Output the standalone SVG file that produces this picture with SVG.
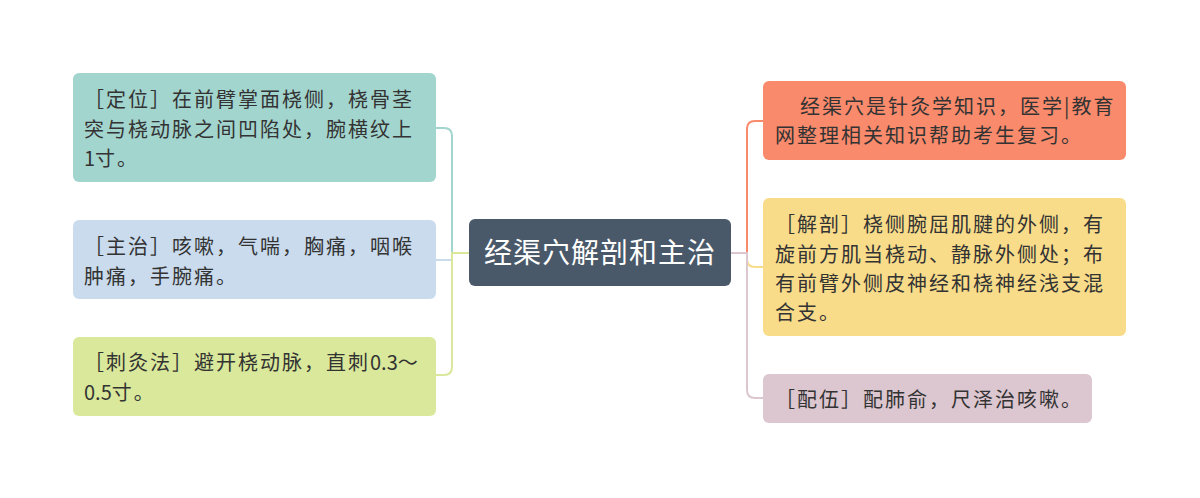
<svg xmlns="http://www.w3.org/2000/svg" width="1200" height="498" viewBox="0 0 1200 498">
<style>
.t{font-family:"Noto Sans CJK SC","Noto Sans",sans-serif;font-size:20px;letter-spacing:2px;fill:#333333;}
.n{letter-spacing:0px;}
.c{font-family:"Noto Sans CJK SC","Noto Sans",sans-serif;font-size:28px;letter-spacing:1px;fill:#ffffff;}
.e{fill:none;stroke-width:2;}
</style>
<rect width="1200" height="498" fill="#ffffff"/>
<g id="connectors">
<path class="e" stroke="#a3d5cf" d="M469 253 H452 V136 Q452 128 444 128 H436"/>
<path class="e" stroke="#c9dbed" d="M469 253 H452 V260 H436"/>
<path class="e" stroke="#d9e89a" d="M469 253 H452 V367 Q452 375 444 375 H436"/>
<path class="e" stroke="#f98a6c" d="M731 253 H747 V129 Q747 121 755 121 H763"/>
<path class="e" stroke="#f8dc8a" d="M731 253 H747 V259 Q747 267 755 267 H763"/>
<path class="e" stroke="#dcc6cf" d="M731 253 H747 V390 Q747 398 755 398 H763"/>
</g>
<g id="center">
<rect x="469" y="219" width="262" height="67" rx="6" fill="#4a5969"/>
<text class="c" x="600" y="263" text-anchor="middle">经渠穴解剖和主治</text>
</g>
<g id="node-dingwei">
<rect x="73" y="73" width="363" height="109" rx="6" fill="#a3d5cf"/>
<text class="t" x="84" y="107">［定位］在前臂掌面桡侧，桡骨茎</text>
<text class="t" x="84" y="137">突与桡动脉之间凹陷处，腕横纹上</text>
<text class="t" x="84" y="166"><tspan class="n">1</tspan>寸。</text>
</g>
<g id="node-zhuzhi">
<rect x="73" y="220" width="363" height="79" rx="6" fill="#c9dbed"/>
<text class="t" x="84" y="254">［主治］咳嗽，气喘，胸痛，咽喉</text>
<text class="t" x="84" y="284">肿痛，手腕痛。</text>
</g>
<g id="node-cijiufa">
<rect x="73" y="337" width="363" height="79" rx="6" fill="#d9e89a"/>
<text class="t" x="84" y="370">［刺灸法］避开桡动脉，直刺<tspan class="n">0.3</tspan>～</text>
<text class="t" x="84" y="400"><tspan class="n">0.5</tspan>寸。</text>
</g>
<g id="node-intro">
<rect x="763" y="81" width="363" height="79" rx="6" fill="#f98a6c"/>
<text class="t" x="800" y="114">经渠穴是针灸学知识，医学|教育</text>
<text class="t" x="775" y="143">网整理相关知识帮助考生复习。</text>
</g>
<g id="node-jiepou">
<rect x="763" y="198" width="363" height="138" rx="6" fill="#f8dc8a"/>
<text class="t" x="775" y="232">［解剖］桡侧腕屈肌腱的外侧，有</text>
<text class="t" x="775" y="262">旋前方肌当桡动、静脉外侧处；布</text>
<text class="t" x="775" y="291">有前臂外侧皮神经和桡神经浅支混</text>
<text class="t" x="775" y="320">合支。</text>
</g>
<g id="node-peiwu">
<rect x="763" y="374" width="329" height="49" rx="6" fill="#dcc6cf"/>
<text class="t" x="775" y="407">［配伍］配肺俞，尺泽治咳嗽。</text>
</g>
</svg>
